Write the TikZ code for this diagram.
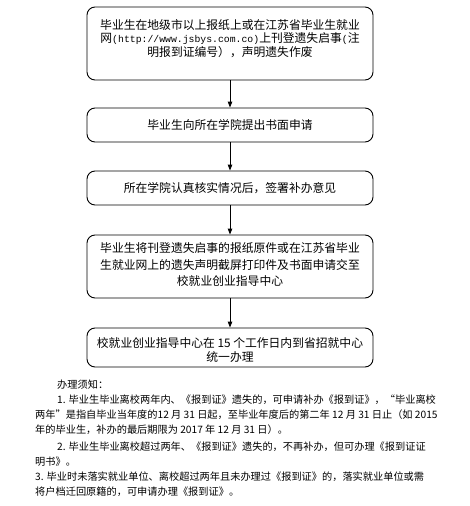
\documentclass[tikz,border=0pt]{standalone}
\usepackage{fontspec}
\newfontfamily\cjk{Noto Sans CJK SC}
\newfontfamily\urlmono{Liberation Mono}
\usetikzlibrary{arrows.meta}
\begin{document}
\begin{tikzpicture}[x=1pt,y=-1pt,
  box/.style={draw, rounded corners=8pt, line width=0.9pt, minimum width=286pt, inner sep=0pt},
  txt/.style={font=\cjk\fontsize{11.8}{13.5}\selectfont, align=center, inner sep=0pt},
  note/.style={font=\cjk\fontsize{10.2}{12}\selectfont, anchor=west, inner sep=0pt},
  arr/.style={-{Triangle[length=6pt,width=4.5pt]}, line width=0.9pt}]
\useasboundingbox (0,0) rectangle (470,506);
\fill[white] (0,0) rectangle (470,506);

\node[box, minimum height=73pt] (b1) at (230,43.5) {};
\node[txt] (t1) at (230,38.5) {毕业生在地级市以上报纸上或在江苏省毕业生就业\\网{\urlmono\fontsize{9.8}{13.5}\selectfont(http://www.jsbys.com.co)}上刊登遗失启事{\urlmono\fontsize{9.8}{13.5}\selectfont(}注\\明报到证编号），声明遗失作废};

\node[box, minimum height=34pt, txt] (b2) at (230,125) {毕业生向所在学院提出书面申请};
\node[box, minimum height=34pt, txt] (b3) at (230,188) {所在学院认真核实情况后，签署补办意见};

\node[box, minimum height=63pt] (b4) at (230,266.5) {};
\node[txt, font=\cjk\fontsize{11.8}{16.5}\selectfont] (t4) at (230,264.5) {毕业生将刊登遗失启事的报纸原件或在江苏省毕业\\生就业网上的遗失声明截屏打印件及书面申请交至\\校就业创业指导中心};

\node[box, minimum height=39pt] (b5) at (230,347.5) {};
\node[txt, font=\cjk\fontsize{11.8}{14}\selectfont] (t5) at (230,350) {校就业创业指导中心在 15 个工作日内到省招就中心\\统一办理};

\draw[arr] (b1.south) -- (b2.north);
\draw[arr] (b2.south) -- (b3.north);
\draw[arr] (b3.south) -- (b4.north);
\draw[arr] (b4.south) -- (b5.north);

\node[note] (n1) at (57,385) {办理须知：};
\node[note] (n2) at (57,400) {1. 毕业生毕业离校两年内、《报到证》遗失的，可申请补办《报到证》，“毕业离校};
\node[note] (n3) at (35,415) {两年”是指自毕业当年度的12 月 31 日起，至毕业年度后的第二年 12 月 31 日止（如 2015};
\node[note] (n4) at (35,430) {年的毕业生，补办的最后期限为 2017 年 12 月 31 日）。};
\node[note] (n5) at (57,447) {2. 毕业生毕业离校超过两年、《报到证》遗失的，不再补办，但可办理《报到证证};
\node[note] (n6) at (35,462) {明书》。};
\node[note] (n7) at (35,477) {3. 毕业时未落实就业单位、离校超过两年且未办理过《报到证》的，落实就业单位或需};
\node[note] (n8) at (35,492) {将户档迁回原籍的，可申请办理《报到证》。};
\end{tikzpicture}
\end{document}
